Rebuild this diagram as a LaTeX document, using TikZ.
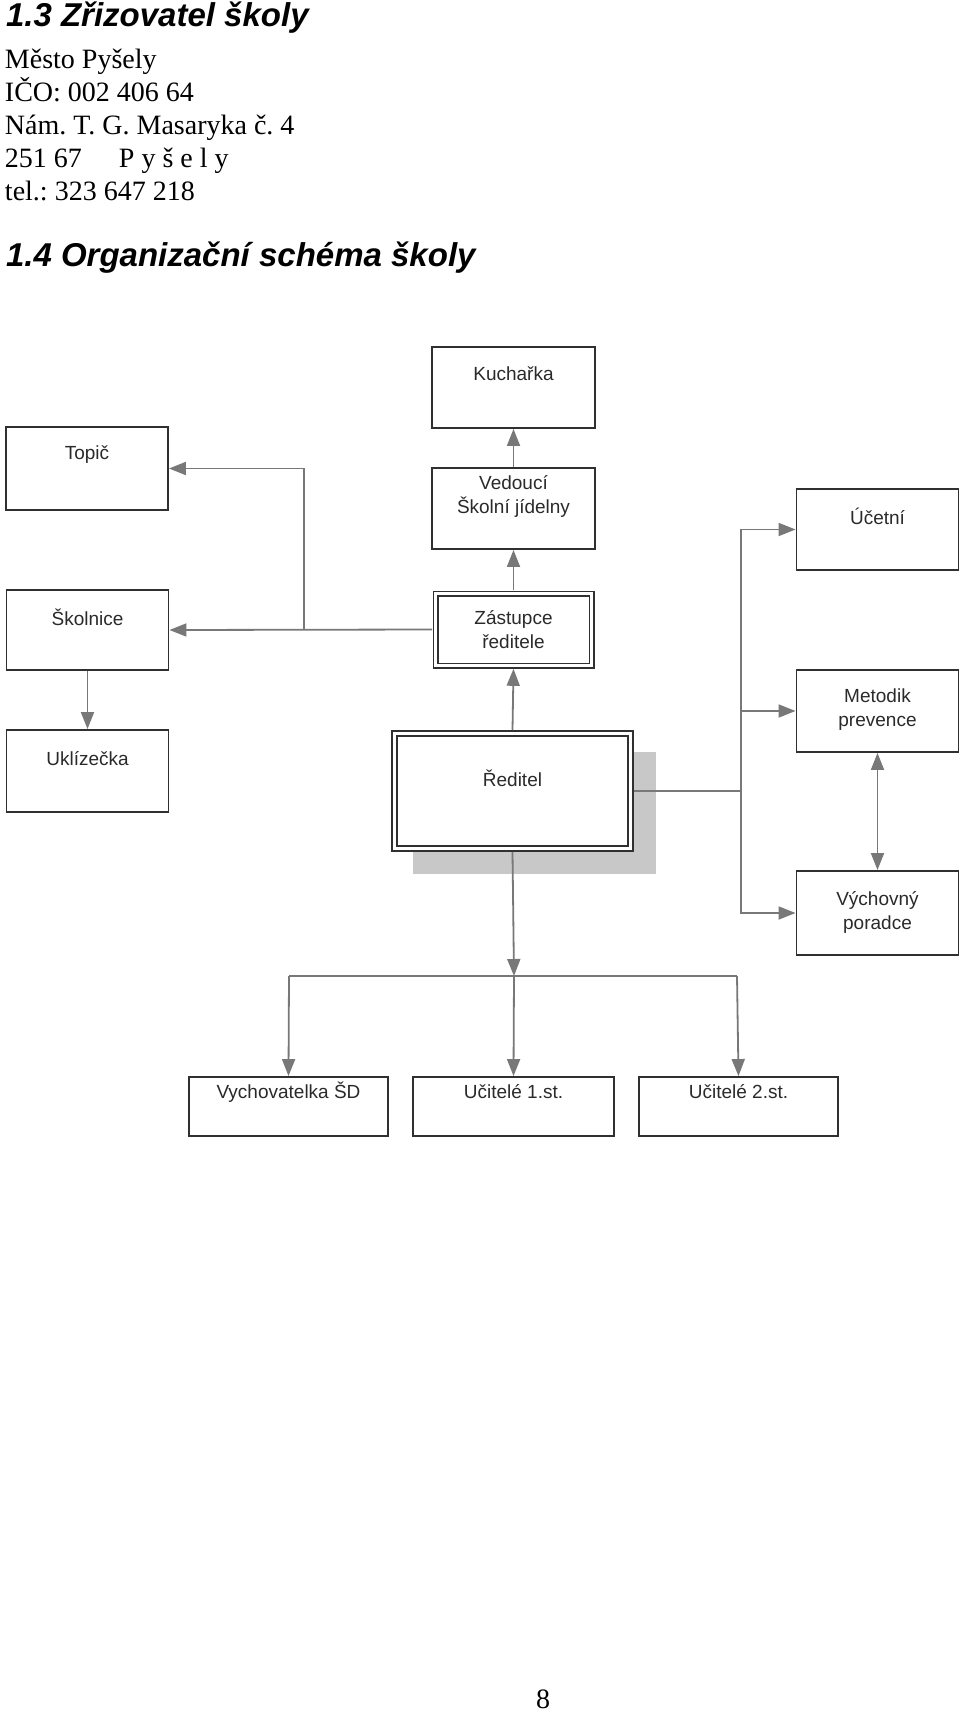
\documentclass[tikz,border=0pt]{standalone}
\usepackage{fontspec}
\setmainfont{Liberation Serif}
\newfontfamily\arial{Liberation Sans}
\usetikzlibrary{arrows.meta}
\definecolor{boxline}{HTML}{303030}
\definecolor{conline}{HTML}{787878}
\definecolor{shadowgray}{HTML}{C8C8C8}
\definecolor{labelgray}{HTML}{2A2A2A}
\frenchspacing
\begin{document}
\begin{tikzpicture}[x=1pt,y=-1pt,
  txt/.style={inner sep=0pt, outer sep=0pt, anchor=base west, font=\fontsize{28}{33}\selectfont},
  head/.style={inner sep=0pt, outer sep=0pt, anchor=base west, font=\arial\bfseries\itshape\fontsize{33}{40}\selectfont},
  box/.style={draw=boxline, line width=1.9pt, fill=white, inner sep=0pt, outer sep=0.95pt},
  dbox/.style={draw=boxline, line width=1.7pt, double=white, double distance=2.6pt, fill=white, inner sep=0pt, outer sep=3.3pt},
  lbl/.style={inner sep=0pt, outer sep=0pt, align=center, text=labelgray, font=\arial\fontsize{19}{24}\selectfont},
  conn/.style={draw=conline, line width=1.8pt},
  arr/.style={conn, -{Triangle[length=17pt,width=13pt]}},
  darr/.style={conn, {Triangle[length=17pt,width=13pt]}-{Triangle[length=17pt,width=13pt]}}
]
\useasboundingbox (0,0) rectangle (960,1714);
\fill[white] (0,0) rectangle (960,1714);

% header text
\node[head] (h13) at (6,26) {1.3 Zřizovatel školy};
\node[txt] (l1) at (5,68) {Město Pyšely};
\node[txt] (l2) at (5,101) {IČO: 002 406 64};
\node[txt] (l3) at (5,134) {Nám. T. G. Masaryka č. 4};
\node[txt] (l4) at (5,167) {251 67\hspace{37pt}P y š e l y};
\node[txt] (l5) at (5,200) {tel.: 323 647 218};
\node[head] (h14) at (6,266) {1.4 Organizační schéma školy};
\node[txt, anchor=base] (pg) at (543,1708) {8};

% shadow of Reditel
\fill[shadowgray] (413,752) rectangle (656,874);

% boxes
\node[box, minimum width=163pt, minimum height=81pt] (kuch) at (513.5,387.5) {};
\node[box, minimum width=162pt, minimum height=83pt] (topic) at (87,468.5) {};
\node[box, minimum width=163pt, minimum height=81pt] (ved) at (513.5,508.5) {};
\node[box, minimum width=162pt, minimum height=81pt] (ucet) at (877.5,529.5) {};
\node[box, minimum width=162pt, minimum height=80pt] (skol) at (87.5,630) {};
\node[dbox, minimum width=156pt, minimum height=72pt] (zast) at (513.5,629.5) {};
\node[box, minimum width=162pt, minimum height=82pt] (metod) at (877.5,711) {};
\node[box, minimum width=162pt, minimum height=82pt] (ukl) at (87.5,771) {};
\node[dbox, line width=2pt, double distance=3pt, minimum width=236pt, minimum height=115pt] (red) at (512.5,791) {};
\node[box, minimum width=162pt, minimum height=84pt] (vychp) at (877.5,913) {};
\node[box, minimum width=199pt, minimum height=59pt] (vychsd) at (288.5,1106.5) {};
\node[box, minimum width=201pt, minimum height=59pt] (uc1) at (513.5,1106.5) {};
\node[box, minimum width=199pt, minimum height=59pt] (uc2) at (738.5,1106.5) {};

% labels
\node[lbl] (kuchT) at (513.5,374) {Kuchařka};
\node[lbl] (topicT) at (87,455) {Topič};
\node[lbl] (vedT) at (513.5,496) {Vedoucí\\Školní jídelny};
\node[lbl] (ucetT) at (877.5,516) {Účetní};
\node[lbl] (skolT) at (87.5,617) {Školnice};
\node[lbl] (zastT) at (513.5,629.5) {Zástupce\\ředitele};
\node[lbl] (metodT) at (877.5,710) {Metodik\\prevence};
\node[lbl] (uklT) at (87.5,759) {Uklízečka};
\node[lbl] (redT) at (512.5,778) {Ředitel};
\node[lbl] (vychpT) at (877.5,912.5) {Výchovný\\poradce};
\node[lbl] (vychsdT) at (288.5,1092) {Vychovatelka ŠD};
\node[lbl] (uc1T) at (513.5,1092) {Učitelé 1.st.};
\node[lbl] (uc2T) at (738.5,1092) {Učitelé 2.st.};

% junction coordinates
\coordinate (jtop) at (304,630);
\coordinate (jright) at (741,791);
\coordinate (jbot) at (514,976);
\coordinate (jbl) at (289,976);
\coordinate (jbr) at (737,976);

% connectors
\draw[arr] (red.north) -- (zast.south);
\draw[arr] (zast.north) -- (ved.south);
\draw[arr] (ved.north) -- (kuch.south);
\draw[arr] (zast.west) -- (skol.east);
\draw[arr] (jtop) |- (topic.east);
\draw[arr] (skol.south) -- (ukl.north);
\draw[conn] (red.east) -- (jright);
\draw[arr] (jright) |- (ucet.west);
\draw[arr] (jright) |- (metod.west);
\draw[arr] (jright) |- (vychp.west);
\draw[darr] (metod.south) -- (vychp.north);
\draw[arr] (red.south) -- (jbot);
\draw[conn] (jbl) -- (jbr);
\draw[arr] (jbl) -- (vychsd.north);
\draw[arr] (jbot) -- (uc1.north);
\draw[arr] (jbr) -- (uc2.north);
\end{tikzpicture}
\end{document}
